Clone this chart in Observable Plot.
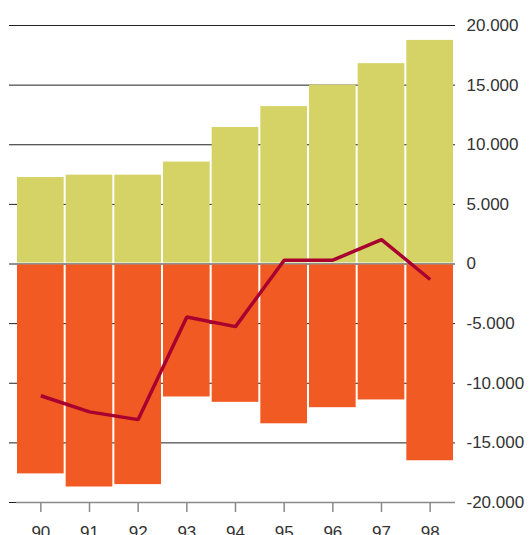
<!DOCTYPE html>
<html>
<head>
<meta charset="utf-8">
<script src="https://cdn.jsdelivr.net/npm/d3@7"></script>
<script src="https://cdn.jsdelivr.net/npm/@observablehq/plot@0.6"></script>
<style>
  html, body { margin: 0; padding: 0; background: #fff; }
  #chart svg { display: block; }
</style>
</head>
<body>
<div id="chart"></div>
<script>
const years = ["90", "91", "92", "93", "94", "95", "96", "97", "98"];
const positiveValues = [7250, 7450, 7450, 8550, 11450, 13200, 15000, 16800, 18750];
const negativeValues = [-17600, -18700, -18500, -11150, -11600, -13400, -12050, -11400, -16500];
const lineValues = [-11050, -12400, -13050, -4450, -5250, 320, 320, 2050, -1300];
const yTicks = [20000, 15000, 10000, 5000, 0, -5000, -10000, -15000, -20000];

const pos = years.map((year, i) => ({year, value: positiveValues[i]}));
const neg = years.map((year, i) => ({year, value: negativeValues[i]}));
const bal = years.map((year, i) => ({year, value: lineValues[i]}));

const locale = d3.formatLocale({decimal: ",", thousands: ".", grouping: [3], currency: ["", ""], minus: "-"});
const fmt = locale.format(",");

const chart = Plot.plot({
  width: 530,
  height: 535,
  marginLeft: 16,
  marginRight: 76,
  marginTop: 25,
  marginBottom: 33,
  style: {fontFamily: "'Liberation Sans', Arial, sans-serif", fontSize: "17px", color: "#333", background: "#fff"},
  x: {type: "band", domain: years, padding: 0, round: false, label: null},
  y: {domain: [-20000, 20000], label: null},
  marks: [
    Plot.ruleY(yTicks, {stroke: "#222", strokeWidth: 1, insetLeft: -7, insetRight: -1}),
    Plot.barY(pos, {x: "year", y: "value", fill: "#d6d366", insetLeft: 1, insetRight: 1, insetBottom: 1}),
    Plot.barY(neg, {x: "year", y: "value", fill: "#f15a22", insetLeft: 1, insetRight: 1, insetTop: 1}),
    Plot.ruleY([-20000], {stroke: "#8a8a8a", strokeWidth: 1.5, insetRight: -1}),
    Plot.line(bal, {x: "year", y: "value", stroke: "#a8002f", strokeWidth: 3.5, strokeLinecap: "butt", strokeLinejoin: "miter"}),
    Plot.axisY({anchor: "right", ticks: yTicks, tickSize: 0, tickPadding: 12, tickFormat: fmt, fontSize: 17, fill: "#333"}),
    Plot.axisX({anchor: "bottom", tickSize: 10, tickPadding: 13, stroke: "#8a8a8a", strokeWidth: 1.5, fontSize: 17, fill: "#333"})
  ]
});
document.getElementById("chart").appendChild(chart);
</script>
</body>
</html>
